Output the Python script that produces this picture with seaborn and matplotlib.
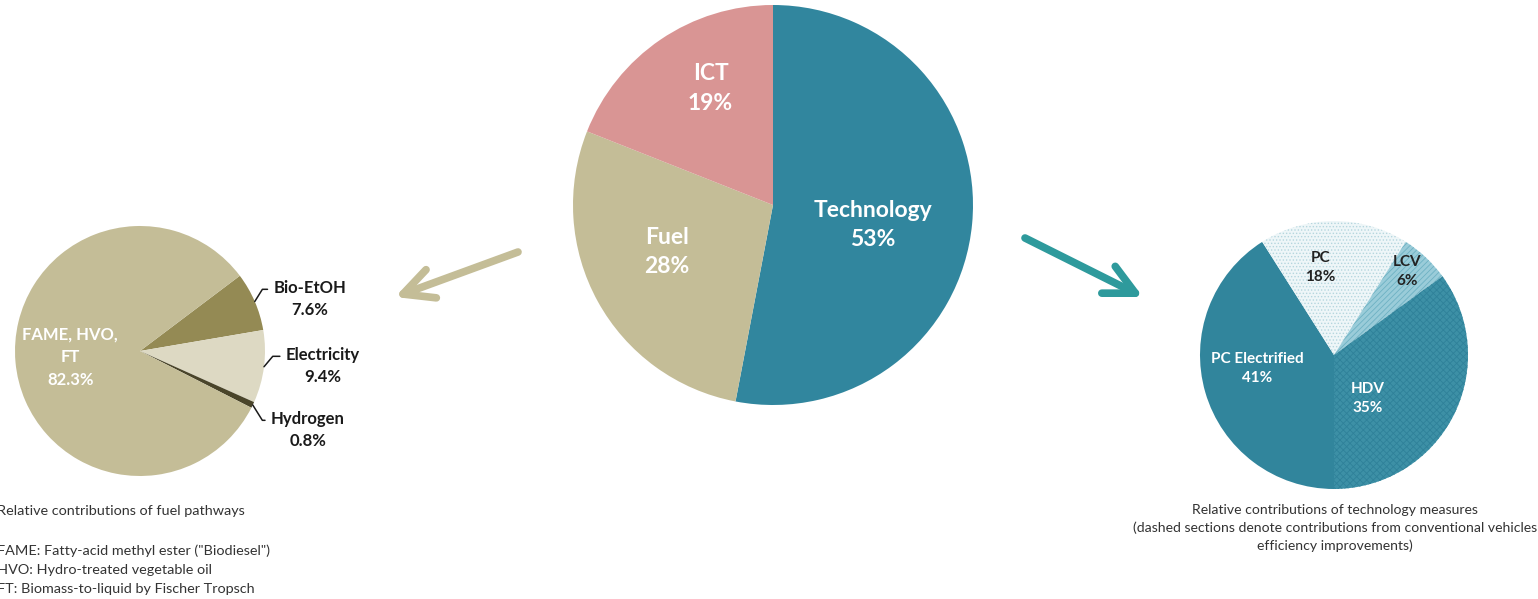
import numpy as np
import matplotlib.pyplot as plt
import seaborn as sns
from matplotlib.patches import ArrowStyle

# data
main_labels = ['Technology', 'Fuel', 'ICT']
main_share = [53, 28, 19]

fuel_labels = ['Bio-EtOH', 'Electricity', 'Hydrogen', 'FAME, HVO,\nFT']
fuel_share = [7.6, 9.4, 0.8, 82.3]

tech_labels = ['PC Electrified', 'PC', 'LCV', 'HDV']
tech_share = [41, 18, 6, 35]

# colours
main_colors = ['#31869E', '#C4BD97', '#D99594']
fuel_colors = ['#948A54', '#DDD9C3', '#4A452A', '#C4BD97']
tech_colors = ['#31859C', '#EEF6F8', '#9ACCD9', '#3D90A6']
tech_hatch = [None, '.....', '//////', 'xxxxx']
tech_hatch_col = ['#31859C', '#B5D6DE', '#6DB1C3', '#2F8199']

sns.set_theme(style='white')
plt.rcParams['font.family'] = ['Lato', 'DejaVu Sans']
plt.rcParams['hatch.linewidth'] = 0.6

W, H = 1538, 599
fig = plt.figure(figsize=(W / 100, H / 100), dpi=100)


def pie_axes(cx, cy, r):
    # cx, cy, r in image pixels (y from top)
    ax = fig.add_axes([(cx - r) / W, (H - cy - r) / H, 2 * r / W, 2 * r / H])
    return ax


def mid(w):
    return np.deg2rad((w.theta1 + w.theta2) / 2)


# 1. big pie in the middle
ax = pie_axes(773, 205, 200)
wedges, _ = ax.pie(main_share, colors=main_colors, startangle=90, counterclock=False,
                   wedgeprops=dict(linewidth=0))
lab_r = [0.51, 0.58, 0.66]
lab_turn = [-6, -5, -6]
for w, lab, v, r, t in zip(wedges, main_labels, main_share, lab_r, lab_turn):
    a = mid(w) + np.deg2rad(t)
    ax.text(r * np.cos(a), r * np.sin(a), f'{lab}\n{v}%', ha='center', va='center',
            color='white', fontsize=16.5, fontweight='bold', linespacing=1.5)
ax.set_xlim(-1, 1)
ax.set_ylim(-1, 1)
ax.axis('off')

# 2. fuel pie (left)
ax = pie_axes(140, 351, 125)
wedges, _ = ax.pie(fuel_share, colors=fuel_colors, startangle=37, counterclock=False,
                   wedgeprops=dict(linewidth=0))
fuel_lab_xy = [(1.36, 0.416), (1.464, -0.12), (1.344, -0.632)]
fuel_angB = [58, 50, -58]
for w, lab, v, xy, ang in zip(wedges[:3], fuel_labels[:3], fuel_share[:3], fuel_lab_xy, fuel_angB):
    a = mid(w)
    ax.annotate(f'{lab}\n{v}%', xy=(np.cos(a), np.sin(a)), xytext=xy,
                ha='center', va='center', fontsize=12, fontweight='bold', color='#1a1a1a',
                linespacing=1.52,
                arrowprops=dict(arrowstyle='-', color='#1a1a1a', lw=1.1, shrinkA=2, shrinkB=0,
                                relpos=(0, 0.75),
                                connectionstyle=f'angle,angleA=0,angleB={ang},rad=0'))
a = mid(wedges[3])
ax.text(0.56 * np.cos(a), 0.56 * np.sin(a), f'{fuel_labels[3]}\n{fuel_share[3]}%',
        ha='center', va='center', color='white', fontsize=12, fontweight='bold', linespacing=1.52)
ax.set_xlim(-1, 1)
ax.set_ylim(-1, 1)
ax.axis('off')

# 3. technology pie (right)
ax = pie_axes(1334, 355, 134)
wedges, _ = ax.pie(tech_share, colors=tech_colors, startangle=-90, counterclock=False,
                   wedgeprops=dict(linewidth=0))
for w, h, hc in zip(wedges, tech_hatch, tech_hatch_col):
    if h:
        w.set_hatch(h)
        w.set_edgecolor(hc)
tech_lab_r = [0.58, 0.66, 0.83, 0.41]
tech_lab_turn = [-6, 9, 2, -25]
tech_txt_col = ['white', '#222222', '#222222', 'white']
for w, lab, v, r, t, c in zip(wedges, tech_labels, tech_share, tech_lab_r, tech_lab_turn, tech_txt_col):
    a = mid(w) + np.deg2rad(t)
    ax.text(r * np.cos(a), r * np.sin(a), f'{lab}\n{v}%', ha='center', va='center',
            color=c, fontsize=11, fontweight='bold', linespacing=1.46)
ax.set_xlim(-1, 1)
ax.set_ylim(-1, 1)
ax.axis('off')

# arrows from the middle pie to the two detail pies
arrow_kw = dict(xycoords='figure pixels', textcoords='figure pixels')
fig.add_artist(plt.Annotation('', xy=(395, H - 297), xytext=(518, H - 252), **arrow_kw,
                              arrowprops=dict(arrowstyle=ArrowStyle('->', head_length=0.72, head_width=0.36),
                                              mutation_scale=30, lw=5.5, color='#C4BD97',
                                              capstyle='round', joinstyle='round',
                                              shrinkA=0, shrinkB=0)))
fig.add_artist(plt.Annotation('', xy=(1143, H - 297), xytext=(1025, H - 238), **arrow_kw,
                              arrowprops=dict(arrowstyle=ArrowStyle('->', head_length=0.72, head_width=0.36),
                                              mutation_scale=30, lw=5.5, color='#2E9A9C',
                                              capstyle='round', joinstyle='round',
                                              shrinkA=0, shrinkB=0)))

# captions
cap_col = '#333333'
fig.text(-3 / W, 1 - 511 / H, 'Relative contributions of fuel pathways', fontsize=10.4,
         color=cap_col, va='center', ha='left')
fig.text(-3 / W, 1 - 570 / H,
         'FAME: Fatty-acid methyl ester ("Biodiesel")\nHVO: Hydro-treated vegetable oil\n'
         'FT: Biomass-to-liquid by Fischer Tropsch',
         fontsize=10.4, color=cap_col, va='center', ha='left', linespacing=1.69)
fig.text(1335 / W, 1 - 528 / H,
         'Relative contributions of technology measures\n'
         '(dashed sections denote contributions from conventional vehicles\n'
         'efficiency improvements)',
         fontsize=10.1, color=cap_col, va='center', ha='center', linespacing=1.52)

fig.savefig('out.png', dpi=100)
